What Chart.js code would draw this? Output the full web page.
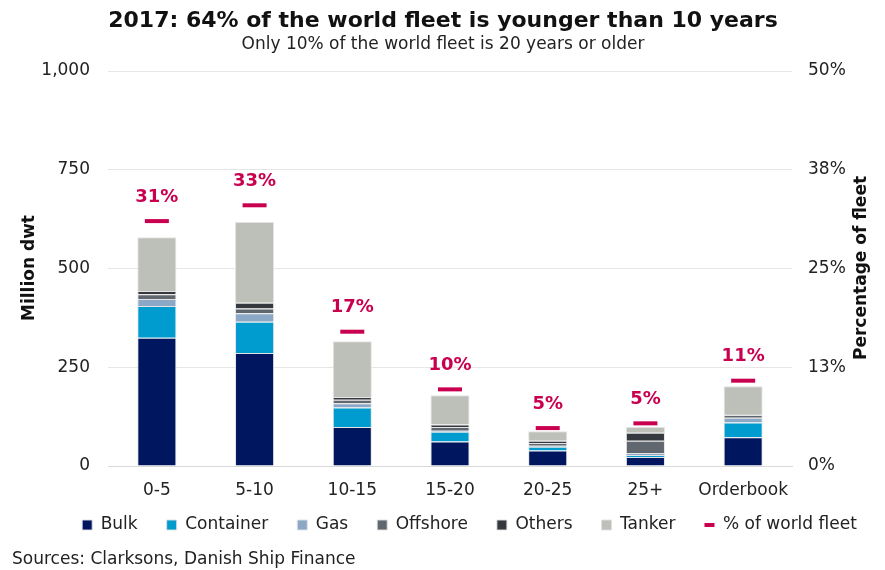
<!DOCTYPE html>
<html>
<head>
<meta charset="utf-8">
<script src="https://cdn.jsdelivr.net/npm/chart.js@4"></script>
<style>
  html, body { margin: 0; padding: 0; background: #fff; }
  #wrap { position: relative; width: 885px; height: 570px; }
</style>
</head>
<body>
<div id="wrap"><canvas id="chart" width="885" height="570"></canvas></div>
<script>
// age groups (years)
const categories = ["0-5", "5-10", "10-15", "15-20", "20-25", "25+", "Orderbook"];

// million dwt per segment
const bulk      = [325, 286, 99, 62, 39, 23, 73];
const container = [80, 79, 49, 25, 10, 5, 37];
const gas       = [18, 22, 11, 2, 2, 5, 12];
const offshore  = [12, 12, 9, 10, 7, 31, 7];
const others    = [8, 14, 7, 6, 6, 20, 2];
const tanker    = [136, 205, 141, 74, 24, 15, 71];

// share of world fleet, %
const share = [31, 33, 17, 9.7, 4.8, 5.4, 10.8];

const font = "'DejaVu Sans', Verdana, sans-serif";
const pink = "#C8004F";
const legendPad = 29;

const bar = (label, data, color) => ({
    type: "bar",
    label,
    data,
    backgroundColor: color,
    borderColor: "rgba(225,225,225,0.9)",
    borderWidth: 1,
    pointStyle: "rect",
    yAxisID: "y",
    stack: "fleet",
    order: 1,
    barPercentage: 0.8,
    categoryPercentage: 0.5
});

// pink % labels above each marker
const shareLabels = {
    id: "shareLabels",
    afterDatasetsDraw(chart) {
        const idx = chart.data.datasets.length - 1;
        const meta = chart.getDatasetMeta(idx);
        const ctx = chart.ctx;
        ctx.save();
        ctx.fillStyle = pink;
        ctx.font = "bold 18px " + font;
        ctx.textAlign = "center";
        ctx.textBaseline = "middle";
        meta.data.forEach((pt, i) => {
            ctx.fillText(Math.round(share[i]) + "%", pt.x, pt.y - 24);
        });
        ctx.restore();
    }
};

// move the legend row a bit right and up, like the original
const legendPlace = {
    id: "legendPlace",
    afterLayout(chart) {
        const lg = chart.legend;
        const top = 525 - legendPad - 8.5;
        lg.top = top;
        lg.bottom = top + lg.height;
        lg.left += 27;
        lg.right += 27;
    }
};

// titles, axis titles and source line
const texts = {
    id: "texts",
    afterDraw(chart) {
        const ctx = chart.ctx;
        ctx.save();
        ctx.textAlign = "center";
        ctx.textBaseline = "middle";
        ctx.fillStyle = "#111";
        ctx.font = "bold 22px " + font;
        ctx.fillText("2017: 64% of the world fleet is younger than 10 years", 443, 21);
        ctx.fillStyle = "#222";
        ctx.font = "17px " + font;
        ctx.fillText("Only 10% of the world fleet is 20 years or older", 443, 45);

        ctx.fillStyle = "#111";
        ctx.font = "bold 17px " + font;
        ctx.save();
        ctx.translate(30, 268);
        ctx.rotate(-Math.PI / 2);
        ctx.fillText("Million dwt", 0, 0);
        ctx.restore();
        ctx.save();
        ctx.translate(862, 268);
        ctx.rotate(-Math.PI / 2);
        ctx.fillText("Percentage of fleet", 0, 0);
        ctx.restore();

        ctx.fillStyle = "#222";
        ctx.font = "17px " + font;
        ctx.textAlign = "left";
        ctx.fillText("Sources: Clarksons, Danish Ship Finance", 12, 560);
        ctx.restore();
    }
};

new Chart(document.getElementById("chart"), {
    data: {
        labels: categories,
        datasets: [
            bar("Bulk", bulk, "#00175F"),
            bar("Container", container, "#009BCF"),
            bar("Gas", gas, "#8BA9C6"),
            bar("Offshore", offshore, "#60676F"),
            bar("Others", others, "#35383E"),
            bar("Tanker", tanker, "#BDBFB9"),
            {
                type: "line",
                label: "% of world fleet",
                data: share,
                yAxisID: "y1",
                showLine: false,
                pointStyle: "line",
                pointRadius: 12,
                pointHoverRadius: 12,
                pointBorderWidth: 4,
                borderWidth: 2,
                borderColor: pink,
                backgroundColor: pink,
                order: 0
            }
        ]
    },
    options: {
        responsive: false,
        animation: false,
        layout: { padding: { left: 0, right: 0, top: 71, bottom: 4 } },
        plugins: {
            title: { display: false },
            legend: {
                position: "bottom",
                labels: {
                    usePointStyle: true,
                    boxWidth: 10,
                    boxHeight: 10,
                    pointStyleWidth: 10,
                    padding: legendPad,
                    color: "#222",
                    font: { family: font, size: 17 },
                    sort: (a, b) => a.datasetIndex - b.datasetIndex
                }
            },
            tooltip: { enabled: false }
        },
        scales: {
            x: {
                stacked: true,
                grid: { display: false },
                border: { display: true, color: "#d9d9d9" },
                ticks: { color: "#222", font: { family: font, size: 17 }, padding: 6 },
                afterFit: s => { s.height = 44; }
            },
            y: {
                stacked: true,
                position: "left",
                min: 0,
                max: 1000,
                ticks: {
                    stepSize: 250,
                    color: "#222",
                    padding: 18,
                    font: { family: font, size: 17 },
                    callback: v => v.toLocaleString("en-US")
                },
                grid: { color: "#e6e6e6", drawTicks: false },
                border: { display: false },
                afterFit: s => { s.width = 108; }
            },
            y1: {
                position: "right",
                min: 0,
                max: 50,
                ticks: {
                    stepSize: 12.5,
                    color: "#222",
                    padding: 16,
                    font: { family: font, size: 17 },
                    callback: v => Math.round(v) + "%"
                },
                grid: { display: false, drawTicks: false },
                border: { display: false },
                afterFit: s => { s.width = 93; }
            }
        }
    },
    plugins: [shareLabels, legendPlace, texts]
});
</script>
</body>
</html>
